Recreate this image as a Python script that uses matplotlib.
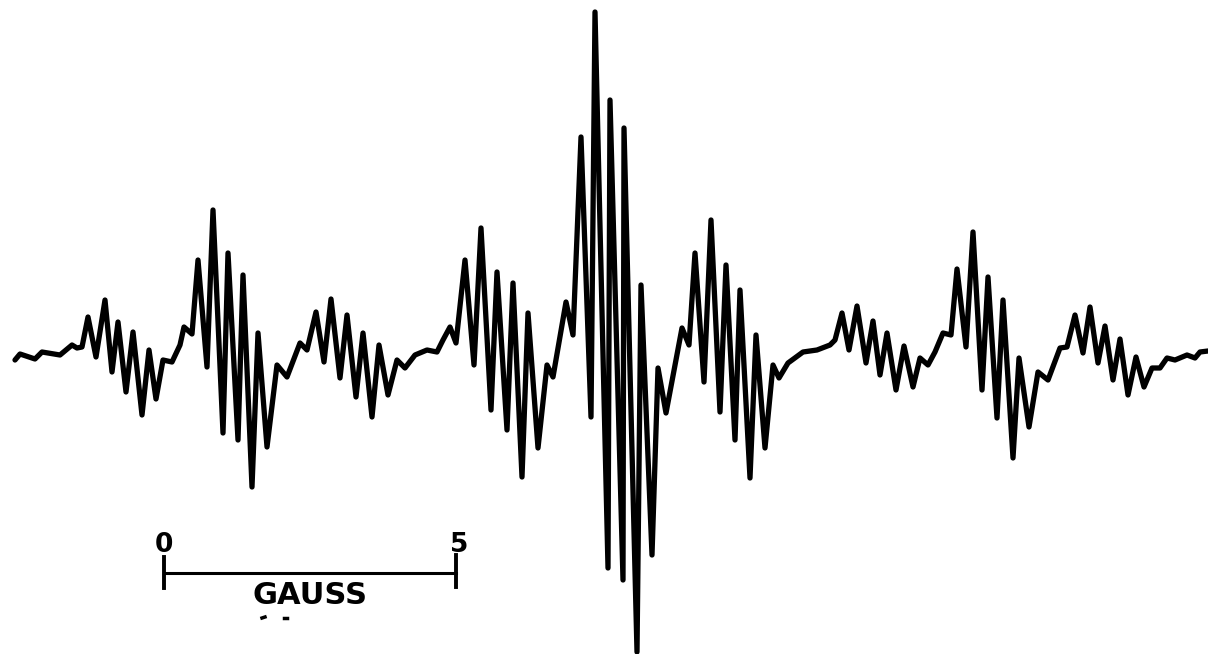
import matplotlib
matplotlib.use('Agg')
import matplotlib.pyplot as plt
import numpy as np

# EPR derivative trace, turning points of the recorder pen (x: field, y: pen position, downwards)
field = [15, 20, 35, 42, 60, 72, 77, 82,
         88, 96, 105, 112, 118, 126, 133, 142, 149, 156,
         163, 172, 180, 184, 192,
         198, 207, 213, 223, 228, 238, 243, 252, 258, 267,
         277, 287, 300, 307,
         316, 324, 331, 340, 347, 356, 363, 372, 379, 388,
         397, 405, 415, 427, 437, 443, 450, 456,
         465, 474, 481, 491, 497, 507, 513, 522, 528, 538,
         547, 553, 566, 573,
         581, 591, 595, 608, 610, 623, 624, 637, 641, 652, 658, 666,
         682, 689,
         695, 704, 711, 720, 726, 735, 740, 750, 756, 765,
         773, 779, 788, 803, 817, 830, 835,
         842, 849, 857, 866, 873, 880, 887, 896, 904, 913,
         920, 928, 935, 943, 951,
         957, 966, 973, 982, 988, 997, 1003, 1013, 1019, 1029,
         1038, 1048, 1060, 1067,
         1075, 1083, 1090, 1098, 1105, 1113, 1120, 1128, 1136, 1144,
         1152, 1160, 1167, 1175, 1187, 1195, 1200, 1208]
signal = [360, 354, 359, 352, 355, 345, 348, 347,
          317, 357, 300, 372, 322, 392, 332, 415, 350, 399,
          360, 362, 345, 327, 334,
          260, 367, 210, 433, 253, 440, 275, 487, 333, 447,
          365, 377, 343, 350,
          312, 362, 299, 378, 315, 397, 333, 417, 345, 395,
          360, 368, 355, 350, 352, 340, 327, 343,
          260, 365, 228, 410, 272, 430, 283, 477, 313, 448,
          365, 377, 302, 335,
          137, 417, 12, 568, 100, 580, 128, 652, 285, 555, 368, 413,
          328, 345,
          253, 382, 220, 412, 265, 440, 290, 478, 335, 448,
          365, 378, 363, 352, 350, 345, 340,
          313, 350, 306, 363, 321, 375, 333, 390, 346, 387,
          358, 365, 352, 333, 335,
          269, 347, 232, 390, 277, 418, 300, 458, 358, 427,
          372, 380, 348, 347,
          315, 353, 307, 363, 326, 380, 339, 395, 357, 387,
          368, 368, 358, 360, 355, 358, 352, 351]

scale_labels = ['0', '5']
scale_unit = 'GAUSS'

fig = plt.figure(figsize=(12.08, 6.54), dpi=100)
ax = fig.add_axes([0, 0, 1, 1])
ax.set_xlim(0, 1208)
ax.set_ylim(654, 0)
ax.axis('off')

ax.plot(field, signal, color='black', lw=3.8,
        solid_joinstyle='round', solid_capstyle='round')

# 5 gauss scale bar
x0, x1, yb = 164, 456, 573
ax.plot([x0, x1], [yb, yb], color='black', lw=2.2)
ax.plot([x0, x0], [557, 588], color='black', lw=2.8)
ax.plot([x1, x1], [555, 587], color='black', lw=2.8)
ax.text(x0, 545, scale_labels[0], ha='center', va='center',
        fontsize=19, fontweight='bold', family='DejaVu Sans')
ax.text(x1 + 3, 545, scale_labels[1], ha='center', va='center',
        fontsize=19, fontweight='bold', family='DejaVu Sans')
ax.text((x0 + x1) / 2, 596, scale_unit, ha='center', va='center',
        fontsize=22, fontweight='bold', family='DejaVu Sans')
ax.plot([262, 265], [618, 617], color='black', lw=2.5)
ax.plot([284, 287], [618, 618], color='black', lw=2.5)

fig.savefig('out.png', dpi=100)
